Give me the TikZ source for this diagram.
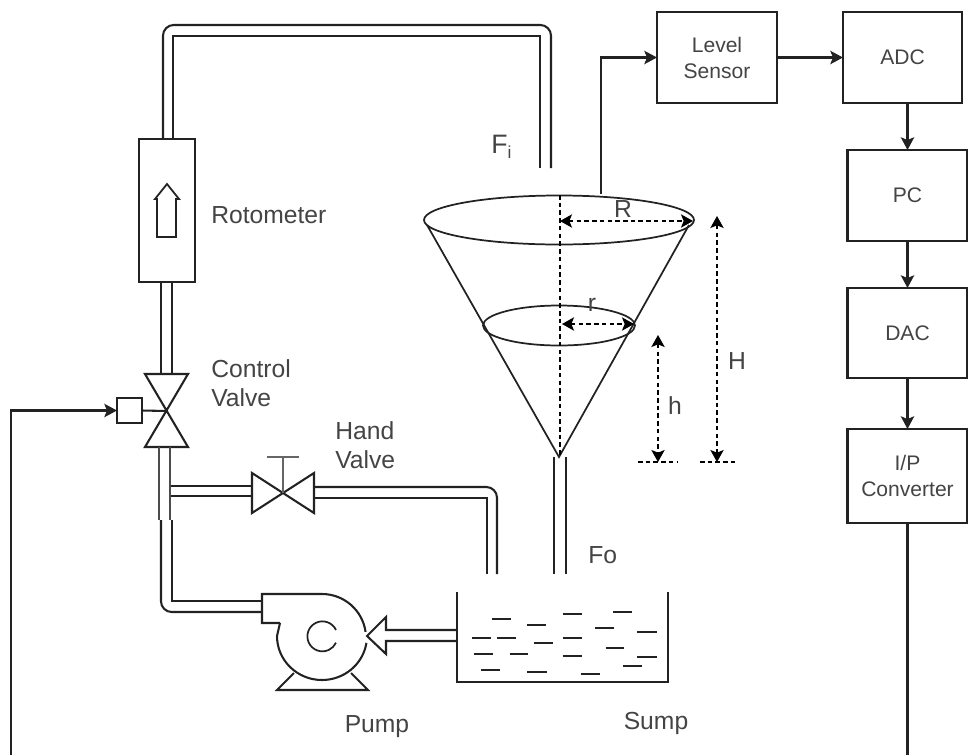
\documentclass[tikz,border=0pt]{standalone}
\usepackage{fontspec}
\setmainfont{Liberation Sans}
\usetikzlibrary{arrows.meta,calc}
\definecolor{ink}{HTML}{222222}
\definecolor{txt}{HTML}{444444}
\tikzset{
  x=0.75pt,y=-0.75pt,
  line/.style={draw=ink,line width=1.55pt,line join=miter},
  thin line/.style={draw=ink,line width=1.3pt},
  pipe/.style={line},
  tip/.style={-{Stealth[length=9.5pt,width=10pt,inset=2pt]}},
  dimline/.style={draw=black,line width=1.2pt,dash pattern=on 3.4pt off 2.4pt},
  dimarrow/.style={dimline,{Stealth[length=9pt,width=10pt,inset=2pt]}-{Stealth[length=9pt,width=10pt,inset=2pt]}},
  blockbox/.style={draw=ink,line width=1.55pt,fill=white,inner sep=0pt,outer sep=0pt,align=center,text=txt,
    font=\fontsize{15.8}{19.5}\selectfont,minimum width=90pt,minimum height=68.25pt},
  lbl/.style={inner sep=0pt,text=txt,align=left,font=\fontsize{18.5}{21.75}\selectfont},
  dash mark/.style={draw=ink,line width=1.3pt},
}
\begin{document}
\begin{tikzpicture}
\clip (0,0) rectangle (968,754);
% blocks
\node[blockbox] (level) at (717,57.5) {Level\\Sensor};
\node[blockbox,minimum width=89.25pt] (adc) at (902.5,57.5) {ADC};
\node[blockbox] (pc) at (907.5,195.5) {PC};
\node[blockbox,minimum height=67.5pt] (dac) at (907.5,333) {DAC};
\node[blockbox,minimum height=70.5pt] (ip) at (907.5,476) {I/P\\Converter};
\node[blockbox,minimum width=42pt,minimum height=107.25pt] (rota) at (167,210.5) {};
\node[blockbox,minimum width=18.75pt,minimum height=18.75pt] (act) at (129.5,410.5) {};
% signal connectors
\coordinate (tanktap) at (601,194);
\coordinate (botR) at (907.5,762);
\coordinate (botL) at (11,762);
\draw[line,tip] (tanktap) |- (level.west);
\draw[line,tip] (level.east) -- (adc.west);
\draw[line,tip] (pc.north |- adc.south) -- (pc.north);
\draw[line,tip] (pc.south) -- (dac.north);
\draw[line,tip] (dac.south) -- (ip.north);
\draw[line,tip] (ip.south) -- (botR) -- (botL) |- (act.west);
% control valve
\coordinate (cv) at (166.5,411);
\draw[line] (145,374) -- (188,374) -- (145,447) -- (188,447) -- cycle;
\draw[line] (act.east) -- (cv);
% rotometer inner arrow
\draw[thin line] (157,237) -- (157,199) -- (155,199) -- (167,184) -- (179,199) -- (176,199) -- (176,237) -- cycle;
% pipes
\draw[pipe,rounded corners=8pt] (163,139) -- (163,25) -- (551,25) -- (551,168);
\draw[pipe] (173,139) -- (173,36) -- (540,36) -- (540,168);
\draw[pipe] (161,282) -- (161,374);
\draw[pipe] (172,282) -- (172,374);
\draw[pipe,draw=black!70] (159,447) -- (159,520);
\draw[pipe,draw=black!70] (170,447) -- (170,520);
\draw[pipe,rounded corners=8pt] (161,520) -- (161,612) -- (262,612);
\draw[pipe] (172,520) -- (172,601) -- (262,601);
\draw[pipe] (171,486) -- (252,486);
\draw[pipe] (171,496) -- (252,496);
\draw[pipe,rounded corners=8pt] (314,487) -- (497,487) -- (497,574);
\draw[pipe] (314,498) -- (487,498) -- (487,574);
\draw[pipe] (554,457) -- (554,574);
\draw[pipe] (566,457) -- (566,574);
% hand valve
\coordinate (hv) at (283,493);
\draw[line] (252,473) -- (314,513) -- (314,473) -- (252,513) -- cycle;
\draw[draw=black!60,line width=1.6pt] (hv) -- (283,457);
\draw[draw=black!60,line width=1.6pt] (267,457) -- (299,457);
% pump
\draw[line] (280,623) -- (262,623) -- (262,594) -- (322,594) arc[start angle=-90,end angle=-8,radius=44];
\draw[line] (280,623) -- (277,636) arc[start angle=180,end angle=9,radius=45,x radius=45,y radius=44] ;
\draw[thin line] (336,630) arc[start angle=-25,end angle=-335,radius=15];
\draw[line] (294,673) -- (277,690) -- (368,690) -- (351,673);
\draw[line] (456,630) -- (386,630) -- (386,617) -- (367,636) -- (386,654) -- (386,641) -- (456,641);
% sump
\draw[line] (457,592) -- (457,682) -- (668,682) -- (668,592);
\foreach \xa/\xb/\yy in {155/212/508,262/318/524,368/425/491,519/575/487,465/521/535,592/650/546,97/153/563,171/228/563,283/340/578,368/425/563,497/553/595,102/158/611,209/265/611,368/425/617,592/650/622,550/606/649,123/180/660,261/320/665,422/480/671}
  \draw[dash mark] ($(440,450)+(\xa/3,\yy/3)$) -- ($(440,450)+(\xb/3,\yy/3)$);
% cone
\draw[thin line] (559,220) ellipse[x radius=135,y radius=24.5];
\draw[thin line] (559,325.5) ellipse[x radius=76,y radius=20];
\coordinate (tipc) at (559,457);
\draw[thin line] (427,225) -- (tipc) -- (689,225);
\draw[dimline] (560,195) -- (560,457);
\draw[dimarrow] (560,221) -- (693,221);
\draw[dimarrow] (562,324) -- (634,324);
\draw[dimarrow] (658,335) -- (658,462);
\draw[dimarrow] (717,216) -- (717,462);
\draw[dimline] (638,462) -- (677,462);
\draw[dimline] (700,462) -- (738,462);
% labels
\node[lbl,anchor=west] (trota) at (211,215) {Rotometer};
\node[lbl,anchor=north west] (tcv) at (211,359) {Control\\Valve};
\node[lbl,anchor=north west] (thv) at (335,421) {Hand\\Valve};
\node[lbl,anchor=base west] (tfi) at (491,153) {\fontsize{20}{22}\selectfont F{\fontsize{13}{13}\selectfont\raisebox{-3.8pt}{i}}};
\node[lbl,anchor=base west] (tfo) at (588,563) {Fo};
\node[lbl] (tR) at (623,209) {R};
\node[lbl] (tr) at (592,305) {r};
\node[lbl] (th) at (675,406) {h};
\node[lbl] (tH) at (737,361) {H};
\node[lbl,anchor=base] (tpump) at (377,732) {Pump};
\node[lbl,anchor=base] (tsump) at (656,729) {Sump};
\end{tikzpicture}
\end{document}
